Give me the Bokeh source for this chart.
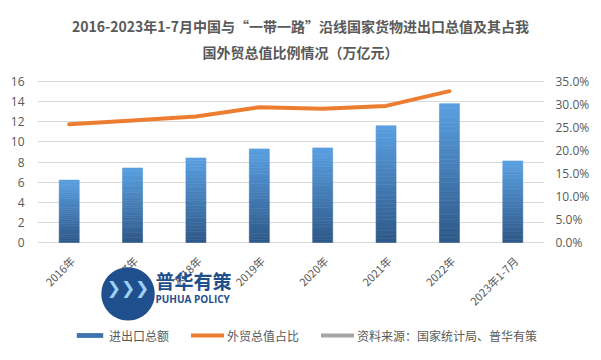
import numpy as np
from bokeh.plotting import figure
from bokeh.models import (FactorRange, Range1d, LinearAxis, NumeralTickFormatter,
                          FixedTicker, Legend, LegendItem, Label, ColumnDataSource)
from bokeh.core.properties import value
from bokeh.embed import file_html
from bokeh.resources import INLINE

# ---------------- data ----------------
categories = ["2016年", "2017年", "2018年", "2019年", "2020年", "2021年", "2022年", "2023年1-7月"]
trade_total = [6.2, 7.4, 8.4, 9.3, 9.4, 11.6, 13.8, 8.1]          # 万亿元
share_categories = ["2016年", "2017年", "2018年", "2019年", "2020年", "2021年", "2022年"]
share_pct = [25.7, 26.5, 27.4, 29.4, 29.1, 29.7, 32.9]             # %
left_ticks = [0, 2, 4, 6, 8, 10, 12, 14, 16]
right_ticks = [0.0, 0.05, 0.10, 0.15, 0.20, 0.25, 0.30, 0.35]
title_line1 = "2016-2023年1-7月中国与“一带一路”沿线国家货物进出口总值及其占我"
title_line2 = "国外贸总值比例情况（万亿元）"
legend_labels = ["进出口总额", "外贸总值占比", "资料来源：国家统计局、普华有策"]
logo_cn = "普华有策"
logo_en = "PUHUA POLICY"

TXT = "#595959"
CJK = "Noto Sans CJK SC"
W, H = 601, 360
FL, FR = 37, 544          # plot-area left/right (canvas px)
Y0, Y16 = 242, 81         # canvas px of value 0 and 16
PPU = (Y0 - Y16) / 16.0   # px per unit
Y_MAX, PCT_MAX = 16.0, 0.35

# frame spans the full height so texts around the chart are not clipped
ylo = -(H - Y0) / PPU
yhi = Y0 / PPU
k_pct = PCT_MAX / Y_MAX

p = figure(x_range=FactorRange(*categories), y_range=Range1d(ylo, yhi),
           width=W, height=H, output_backend="svg", toolbar_location=None,
           min_border_left=FL, min_border_right=W - FR, min_border_top=0,
           min_border_bottom=0)
p.extra_y_ranges = {"pct": Range1d(ylo * k_pct, yhi * k_pct)}
p.outline_line_color = None
p.background_fill_color = "white"
p.border_fill_color = "white"
p.title = None


def dx(px):
    return (px - FL) / ((FR - FL) / len(categories))


def dy(py):
    return (Y0 - py) / PPU


# ---------------- gradient bars ----------------
N = 30
bot_c = np.array([46, 88, 135])
top_c = np.array([90, 160, 226])
xs, bs, ts, cs = [], [], [], []
for cat, v in zip(categories, trade_total):
    for k in range(N):
        f = (k + 0.5) / N
        c = bot_c + (top_c - bot_c) * f
        xs.append(cat)
        bs.append(v * k / N)
        ts.append(v * (k + 1) / N)
        cs.append("#%02x%02x%02x" % tuple(int(round(t)) for t in c))
src = ColumnDataSource(dict(x=xs, b=bs, t=ts, c=cs))
p.vbar(x="x", bottom="b", top="t", width=0.315, fill_color="c",
       line_color="c", line_width=0.6, source=src)

# legend stand-ins (zero-height bar / single-point line: nothing visible on the chart)
bar_leg = p.vbar(x=[categories[0]], bottom=[0], top=[0], width=0.3,
                 fill_color="#3e74ad", line_color=None)

line_r = p.line(share_categories, [v / 100 for v in share_pct], y_range_name="pct",
                line_color="#ED7D31", line_width=4, line_cap="round", line_join="round")
src_r = p.line(x=[categories[0]], y=[float("nan")], line_color="#A5A5A5",
               line_width=4, line_cap="round")

# ---------------- axes ----------------
for ax in p.yaxis:
    ax.ticker = FixedTicker(ticks=left_ticks)
    ax.axis_line_color = None
    ax.major_tick_line_color = None
    ax.minor_tick_line_color = None
    ax.major_label_text_font = "Open Sans"
    ax.major_label_text_font_size = "12px"
    ax.major_label_text_color = TXT
    ax.major_label_standoff = 7

rax = LinearAxis(y_range_name="pct", ticker=FixedTicker(ticks=right_ticks),
                 formatter=NumeralTickFormatter(format="0.0%"))
rax.axis_line_color = None
rax.major_tick_line_color = None
rax.minor_tick_line_color = None
rax.major_label_text_font = "Open Sans"
rax.major_label_text_font_size = "12px"
rax.major_label_text_color = TXT
rax.major_label_standoff = 5
p.add_layout(rax, "right")

p.xaxis.visible = False
p.xgrid.grid_line_color = None
p.ygrid.ticker = FixedTicker(ticks=left_ticks)
p.ygrid.grid_line_color = "#d9d9d9"
p.ygrid.grid_line_width = 1

# category labels, rotated 45 degrees under each bar
p.text(x=categories, y=[0] * len(categories), text=categories,
       angle=np.pi / 4, text_align="right", text_baseline="middle",
       x_offset=3, y_offset=16, text_font=value(CJK),
       text_font_size=value("11px"), text_color=TXT)

# ---------------- title ----------------
for txt, py in [(title_line1, 25.5), (title_line2, 51)]:
    p.add_layout(Label(x=dx(300), y=dy(py), text=txt, text_align="center",
                       text_baseline="middle", text_font=CJK,
                       text_font_size="14px", text_font_style="bold",
                       text_color=TXT))

# ---------------- logo ----------------
BLUE = "#1f4f8c"
p.add_layout(Label(x=dx(127.5), y=dy(287.5), text="●", text_align="center",
                   text_baseline="middle", text_font="DejaVu Sans",
                   text_font_size="70px", text_color=BLUE))
p.add_layout(Label(x=dx(127.5), y=dy(287.5), text="❯❯❯", text_align="center",
                   text_baseline="middle", text_font="DejaVu Sans",
                   text_font_size="17px", text_color="#9fd0f5"))
p.add_layout(Label(x=dx(155), y=dy(280), text=logo_cn, text_align="left",
                   text_baseline="middle", text_font=CJK, text_font_size="19px",
                   text_font_style="bold", text_color=BLUE))
p.add_layout(Label(x=dx(155), y=dy(298), text=logo_en, text_align="left",
                   text_baseline="middle", text_font="Open Sans",
                   text_font_size="10px", text_font_style="bold",
                   text_color=BLUE))

# ---------------- legend ----------------
legend = Legend(items=[LegendItem(label=legend_labels[0], renderers=[bar_leg]),
                       LegendItem(label=legend_labels[1], renderers=[line_r]),
                       LegendItem(label=legend_labels[2], renderers=[src_r])],
                location=(36, 15), orientation="horizontal",
                glyph_width=33, glyph_height=6, label_height=20,
                label_standoff=3, spacing=22, padding=0, margin=0,
                border_line_color=None, background_fill_alpha=0,
                label_text_font=CJK, label_text_font_size="12px",
                label_text_color=TXT)
p.add_layout(legend, "center")

open("out.html", "w").write(file_html(p, INLINE))
